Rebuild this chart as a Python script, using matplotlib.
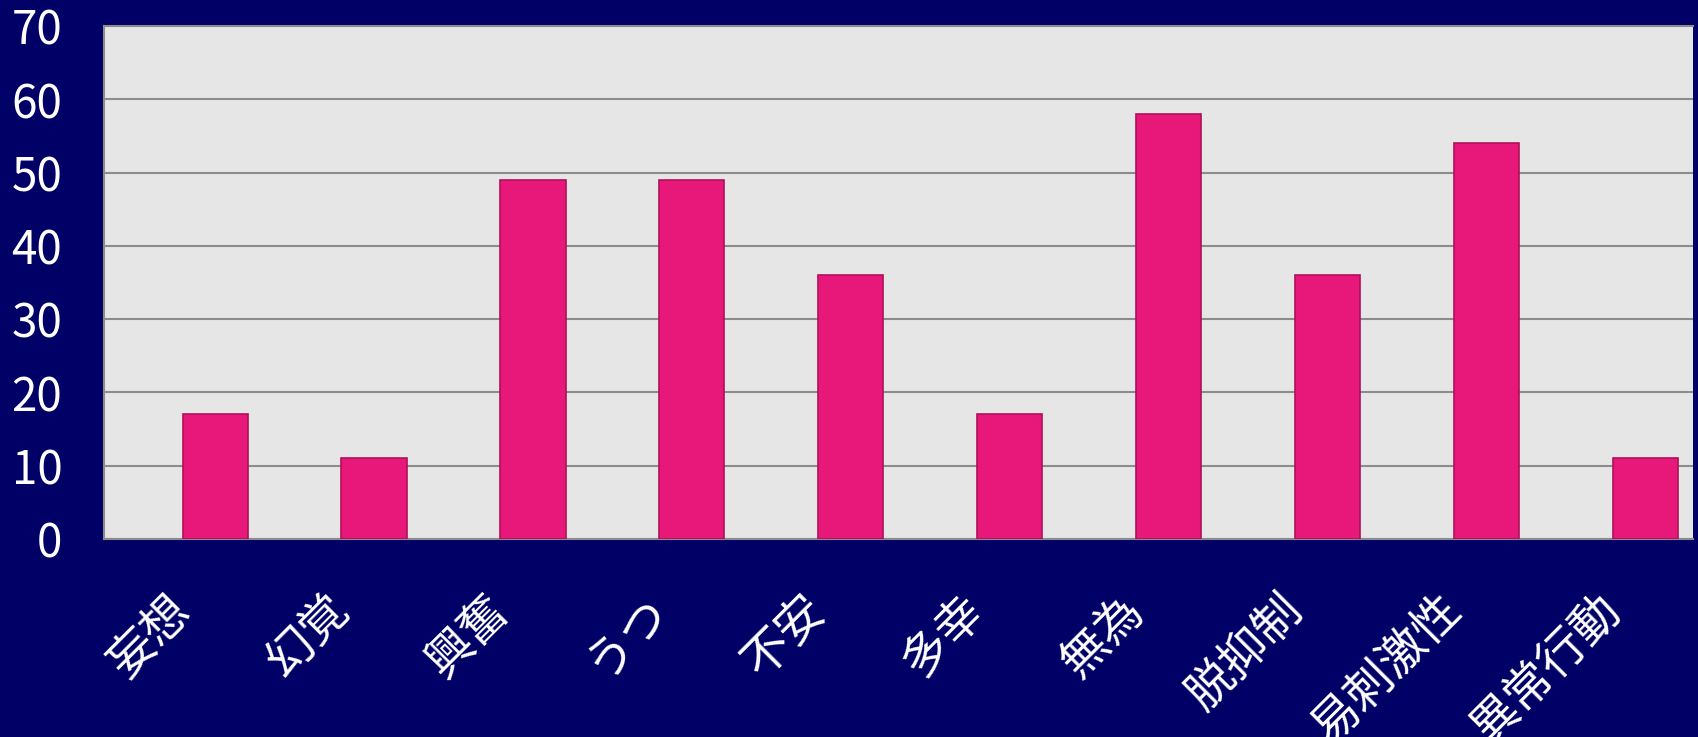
import matplotlib
matplotlib.use("Agg")
import matplotlib.pyplot as plt
import numpy as np

plt.rcParams['font.family'] = ['Noto Sans CJK JP', 'DejaVu Sans']

categories = ['妄想', '幻覚', '興奮', 'うつ', '不安', '多幸', '無為', '脱抑制', '易刺激性', '異常行動']
values = [17, 11, 49, 49, 36, 17, 58, 36, 54, 11]
yticks = [0, 10, 20, 30, 40, 50, 60, 70]

navy = '#000066'
fig = plt.figure(figsize=(16.98, 7.37), dpi=100, facecolor=navy)
ax = fig.add_axes([0.0612, 0.2687, 0.9358, 0.696])
ax.set_facecolor('#e6e6e6')

x = np.arange(len(categories))
ax.bar(x + 0.2, values, width=0.41, color='#e8177a', edgecolor='#b0105a',
       linewidth=1.2, zorder=3)

ax.set_xlim(-0.5, len(categories) - 0.5)
ax.set_ylim(0, 70)
ax.set_yticks(yticks)
ax.yaxis.grid(True, color='#8c8c8c', linewidth=1.5, zorder=1)
ax.set_axisbelow(True)

ax.set_xticks(x)
ax.set_xticklabels(categories, rotation=45, ha='right', va='center',
                   rotation_mode='anchor', fontsize=34, color='white')
ax.tick_params(axis='x', length=0, pad=46)
ax.tick_params(axis='y', length=0, pad=30, labelsize=33, labelcolor='white')

for side in ['left', 'bottom', 'top']:
    ax.spines[side].set_color('#8c8c8c')
    ax.spines[side].set_linewidth(1.5)
ax.spines['right'].set_visible(False)

fig.savefig('out.png', dpi=100, facecolor=navy)
